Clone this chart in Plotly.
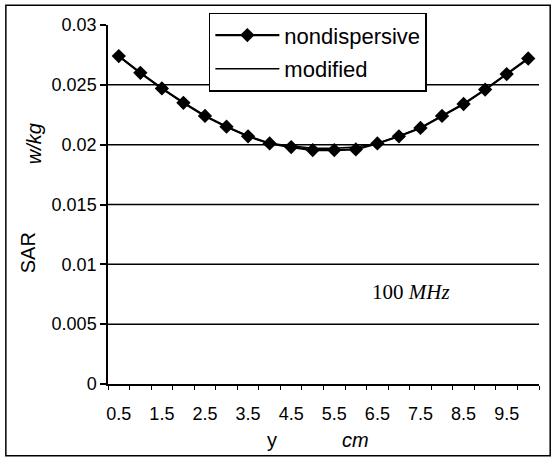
import plotly.graph_objects as go

# ---- data ----
y_cm = [0.5, 1.0, 1.5, 2.0, 2.5, 3.0, 3.5, 4.0, 4.5, 5.0,
        5.5, 6.0, 6.5, 7.0, 7.5, 8.0, 8.5, 9.0, 9.5, 10.0]
sar_nondispersive = [0.0274, 0.0260, 0.0247, 0.0235, 0.0224, 0.0215, 0.0207, 0.0201, 0.0198, 0.01955,
                     0.01955, 0.0196, 0.0201, 0.0207, 0.0214, 0.0224, 0.0234, 0.0246, 0.0259, 0.0272]
sar_modified = [0.0274, 0.0260, 0.0247, 0.0235, 0.0224, 0.0215, 0.0207, 0.0201, 0.0199, 0.0197,
                0.0197, 0.0198, 0.0201, 0.0207, 0.0214, 0.0224, 0.0234, 0.0246, 0.0259, 0.0272]
x_tick_vals = [0.5, 1.5, 2.5, 3.5, 4.5, 5.5, 6.5, 7.5, 8.5, 9.5]
x_tick_text = ["0.5", "1.5", "2.5", "3.5", "4.5", "5.5", "6.5", "7.5", "8.5", "9.5"]
y_tick_vals = [0, 0.005, 0.01, 0.015, 0.02, 0.025, 0.03]
y_tick_text = ["0", "0.005", "0.01", "0.015", "0.02", "0.025", "0.03"]

FONT = "Liberation Sans, Arial, sans-serif"
SERIF = "Liberation Serif, Times New Roman, serif"

fig = go.Figure()
fig.add_trace(go.Scatter(
    x=y_cm, y=sar_nondispersive, mode="lines+markers", name="nondispersive",
    line=dict(color="black", width=2.2),
    marker=dict(symbol="diamond", size=11, color="black"),
    legendgroup="a",
))
fig.add_trace(go.Scatter(
    x=y_cm, y=sar_modified, mode="lines", name="modified",
    line=dict(color="black", width=1.5),
    legendgroup="b",
))

# horizontal gridlines (interior ticks only)
for v in y_tick_vals[1:-1]:
    fig.add_shape(type="line", xref="paper", yref="y", x0=0, x1=1, y0=v, y1=v,
                  line=dict(color="black", width=1.5), layer="below")

# outer frame
fig.add_shape(type="rect", xref="paper", yref="paper",
              x0=-0.237, x1=1.026, y0=-0.2, y1=1.055,
              line=dict(color="black", width=1.5))

fig.update_layout(
    width=556, height=462,
    margin=dict(l=108, r=17, t=25, b=78),
    paper_bgcolor="white", plot_bgcolor="white",
    font=dict(family=FONT, color="black", size=18),
    showlegend=True,
    legend=dict(
        x=0.234, y=1.034, xanchor="left", yanchor="top",
        bgcolor="white", bordercolor="black", borderwidth=1.5,
        font=dict(family=FONT, size=22, color="black"),
        itemwidth=64, tracegroupgap=2, traceorder="grouped",
    ),
    xaxis=dict(
        range=[0.25, 10.25], showgrid=False, zeroline=False,
        showline=True, linecolor="black", linewidth=1.5,
        tickvals=x_tick_vals, ticktext=x_tick_text, ticks="",
        ticklabelstandoff=13,
        tickfont=dict(family=FONT, size=18, color="black"),
        minor=dict(ticks="outside", tick0=0.25, dtick=0.5, ticklen=4,
                   tickcolor="black", tickwidth=1.2, showgrid=False),
    ),
    yaxis=dict(
        range=[0, 0.03], showgrid=False, zeroline=False,
        showline=True, linecolor="black", linewidth=1.5,
        tickvals=y_tick_vals, ticktext=y_tick_text,
        ticks="outside", ticklen=6, tickcolor="black", tickwidth=1.5,
        tickfont=dict(family=FONT, size=18, color="black"),
    ),
)

annos = [
    dict(text="SAR", x=-0.185, y=0.365, textangle=-90,
         font=dict(family=FONT, size=20)),
    dict(text="<i>w/kg</i>", x=-0.17, y=0.67, textangle=-90,
         font=dict(family=FONT, size=20)),
    dict(text="y", x=0.381, y=-0.155, font=dict(family=FONT, size=20)),
    dict(text="<i>cm</i>", x=0.575, y=-0.155, font=dict(family=FONT, size=20)),
    dict(text="100 <i>MHz</i>", x=0.703, y=0.255, font=dict(family=SERIF, size=21)),
]
for a in annos:
    fig.add_annotation(xref="paper", yref="paper", showarrow=False,
                       xanchor="center", yanchor="middle", **a)

fig.write_html("out.html")
